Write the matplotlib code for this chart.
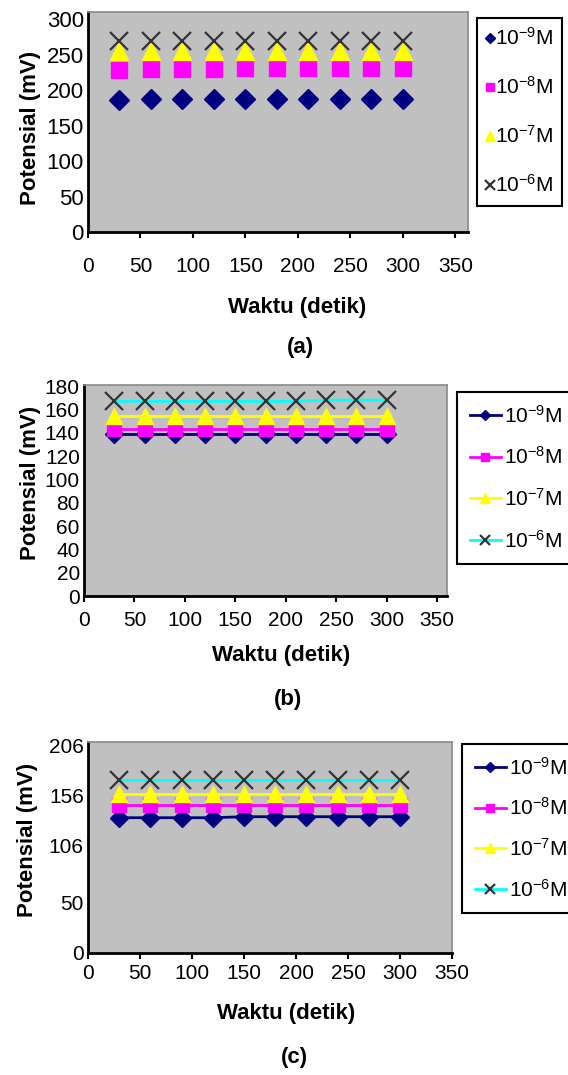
import matplotlib.pyplot as plt

plt.rcParams['font.family'] = ['Liberation Sans', 'DejaVu Sans']
plt.rcParams['mathtext.fontset'] = 'custom'
plt.rcParams['mathtext.rm'] = 'Liberation Sans'
plt.rcParams['mathtext.it'] = 'Liberation Sans'

# data
waktu = [30, 60, 90, 120, 150, 180, 210, 240, 270, 300]
konsentrasi = [r'10$^{-9}$M', r'10$^{-8}$M', r'10$^{-7}$M', r'10$^{-6}$M']

a_9 = [186, 188, 188, 188, 188, 188, 188, 188, 188, 188]
a_8 = [228, 229, 229, 229, 231, 231, 231, 231, 231, 231]
a_7 = [255, 255, 255, 255, 255, 255, 255, 255, 255, 255]
a_6 = [269, 269, 269, 269, 269, 269, 269, 269, 269, 269]

b_9 = [139, 139, 139, 139, 139, 139, 139, 139, 139, 139]
b_8 = [143, 143, 143, 143, 143, 143, 143, 143, 143, 143]
b_7 = [154, 154, 154, 154, 154, 154, 154, 154, 154, 154]
b_6 = [167, 167, 167, 167, 167, 167, 167, 168, 168, 168]

c_9 = [134, 134, 134, 134, 135, 135, 135, 135, 135, 135]
c_8 = [147, 147, 147, 147, 147, 147, 147, 147, 147, 147]
c_7 = [157, 157, 157, 157, 157, 157, 157, 157, 157, 157]
c_6 = [171, 171, 171, 171, 171, 171, 171, 171, 171, 171]

x_ticks = [0, 50, 100, 150, 200, 250, 300, 350]
a_yticks = [0, 50, 100, 150, 200, 250, 300]
b_yticks = [0, 20, 40, 60, 80, 100, 120, 140, 160, 180]
c_yticks = [0, 50, 106, 156, 206]

warna = ['#000080', '#ff00ff', '#ffff00', '#00ffff']
penanda = ['D', 's', '^', 'x']
ukuran = [10, 11, 13, 13]

W, H = 568, 1075
fig = plt.figure(figsize=(W / 100, H / 100), dpi=100)


def kotak(l, t, r, b, ysize):
    ax = fig.add_axes([l / W, 1 - b / H, (r - l) / W, (b - t) / H])
    ax.set_facecolor('#c0c0c0')
    for s in ['top', 'right']:
        ax.spines[s].set_color('#8a8a8a')
        ax.spines[s].set_linewidth(1.2)
    for s in ['left', 'bottom']:
        ax.spines[s].set_color('black')
        ax.spines[s].set_linewidth(2)
    ax.tick_params(axis='x', labelsize=15, length=4, width=1.5, direction='out')
    ax.tick_params(axis='y', labelsize=ysize, length=0, pad=3)
    return ax, (l, t, r, b)


def label_pos(ax, box, xl, yl):
    l, t, r, b = box
    ax.set_xlabel('Waktu (detik)', fontsize=16, fontweight='bold', va='center')
    ax.set_ylabel('Potensial (mV)', fontsize=16, fontweight='bold', va='center')
    ax.xaxis.set_label_coords((xl[0] - l) / (r - l), (b - xl[1]) / (b - t))
    ax.yaxis.set_label_coords((yl[0] - l) / (r - l), (b - yl[1]) / (b - t))


def legenda(ax, x, y, **kw):
    leg = ax.legend(loc='upper left', bbox_to_anchor=(x / W, 1 - y / H),
                    bbox_transform=fig.transFigure, borderaxespad=0, fontsize=15,
                    fancybox=False, edgecolor='black', framealpha=1, **kw)
    leg.get_frame().set_linewidth(1.5)
    return leg


# (a)
ax, box = kotak(88, 12, 468, 232, 16)
for ys, c, m, s in zip([a_9, a_8, a_7, a_6], warna, penanda, ukuran):
    if m == 'x':
        ax.plot(waktu, ys, linestyle='none', marker=m, ms=s, mew=1.6, color='#333333')
    else:
        ax.plot(waktu, ys, linestyle='none', marker=m, ms=s, color=c)
ax.set_xlim(0, 362)
ax.set_ylim(0, 310)
ax.set_xticks(x_ticks)
ax.set_yticks(a_yticks)
ax.tick_params(axis='x', pad=14)
label_pos(ax, box, (297, 307), (31, 128))
legenda(ax, 477, 18, labels=konsentrasi, handlelength=0.3, handletextpad=0.1,
        labelspacing=1.3, borderpad=0.45, markerscale=0.55)

# (b)
ax, box = kotak(84, 385, 447, 596, 15)
for ys, c, m, s in zip([b_9, b_8, b_7, b_6], warna, penanda, ukuran):
    if m == 'x':
        ax.plot(waktu, ys, color=c, lw=2, marker=m, ms=s, mew=1.6, mec='#333333')
    else:
        ax.plot(waktu, ys, color=c, lw=2, marker=m, ms=s - 1)
ax.set_xlim(0, 360)
ax.set_ylim(0, 181)
ax.set_xticks(x_ticks)
ax.set_yticks(b_yticks)
ax.tick_params(axis='x', pad=7)
label_pos(ax, box, (281, 655), (31, 483))
legenda(ax, 457, 392, labels=konsentrasi, handlelength=1.5, handletextpad=0.15,
        labelspacing=0.95, borderpad=0.6, markerscale=0.6)

# (c)
ax, box = kotak(88, 742, 452, 953, 15)
for ys, c, m, s in zip([c_9, c_8, c_7, c_6], warna, penanda, ukuran):
    if m == 'x':
        ax.plot(waktu, ys, color=c, lw=2, marker=m, ms=s, mew=1.6, mec='#333333')
    else:
        ax.plot(waktu, ys, color=c, lw=2, marker=m, ms=s - 1)
ax.set_xlim(0, 350)
ax.set_ylim(0, 209)
ax.set_xticks(x_ticks)
ax.set_yticks(c_yticks)
ax.tick_params(axis='x', pad=4)
label_pos(ax, box, (286, 1013), (27, 840))
legenda(ax, 462, 744, labels=konsentrasi, handlelength=1.5, handletextpad=0.15,
        labelspacing=0.9, borderpad=0.6, markerscale=0.6)

fig.text(300 / W, 1 - 347 / H, '(a)', fontsize=16, fontweight='bold', ha='center', va='center')
fig.text(288 / W, 1 - 700 / H, '(b)', fontsize=16, fontweight='bold', ha='center', va='center')
fig.text(294 / W, 1 - 1057 / H, '(c)', fontsize=16, fontweight='bold', ha='center', va='center')

fig.savefig('out.png', dpi=100)
